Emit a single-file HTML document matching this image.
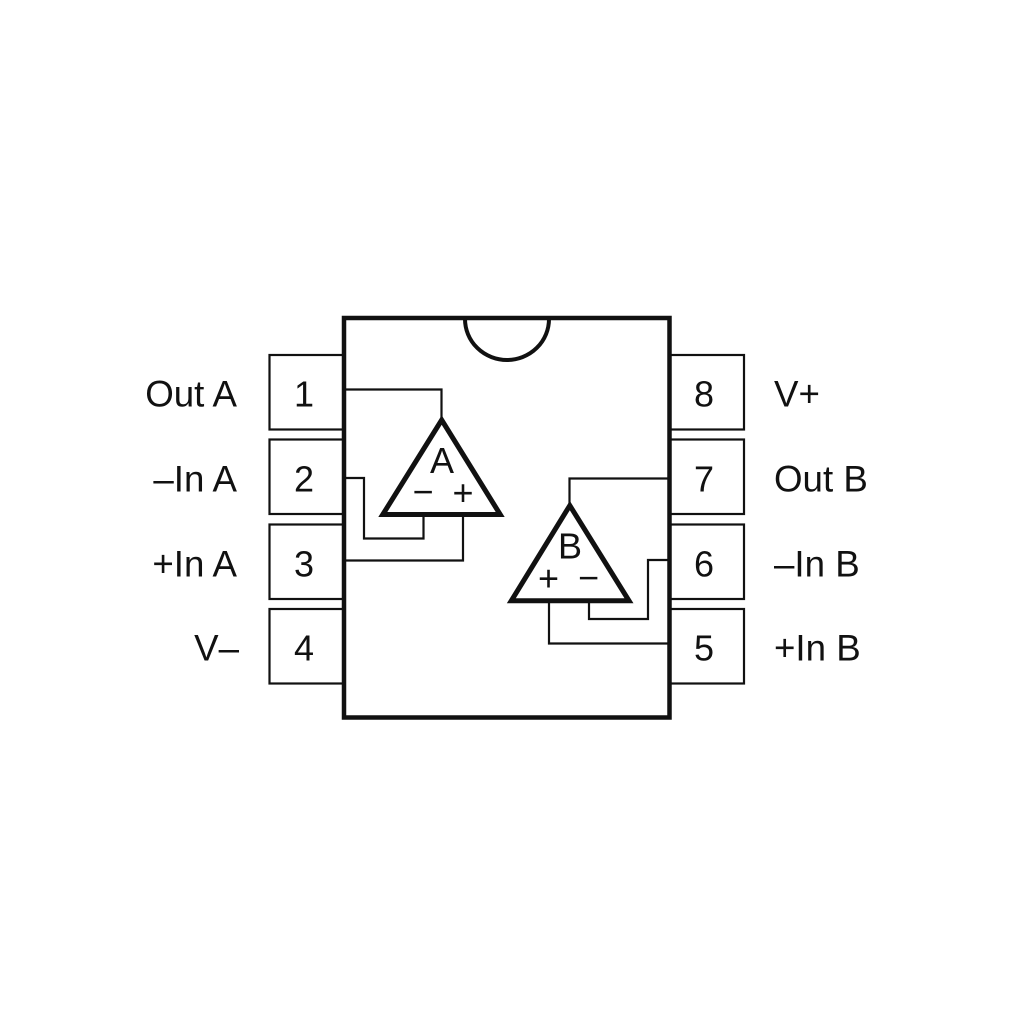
<!DOCTYPE html>
<html>
<head>
<meta charset="utf-8">
<style>
html,body{margin:0;padding:0;background:#fff;}
svg{display:block;}
text{font-family:"Liberation Sans",Arial,sans-serif;fill:#111;}
</style>
</head>
<body>
<svg width="1024" height="1024" viewBox="0 0 1024 1024" xmlns="http://www.w3.org/2000/svg">
<rect width="1024" height="1024" fill="#fff"/>
<g fill="none" stroke="#111" stroke-width="2.2">
  <rect x="269.500" y="355" width="74" height="74.500"/>
  <rect x="269.500" y="439.500" width="74" height="74.500"/>
  <rect x="269.500" y="524.500" width="74" height="74.500"/>
  <rect x="269.500" y="609" width="74" height="74.500"/>
  <rect x="670" y="355" width="74" height="74.500"/>
  <rect x="670" y="439.500" width="74" height="74.500"/>
  <rect x="670" y="524.500" width="74" height="74.500"/>
  <rect x="670" y="609" width="74" height="74.500"/>
</g>
<rect x="344" y="318" width="325.500" height="399.500" fill="#fff" stroke="#111" stroke-width="4.500"/>
<path d="M465 319 A42 41 0 0 0 549 319" fill="none" stroke="#111" stroke-width="4"/>
<g fill="none" stroke="#111" stroke-width="2.2">
  <path d="M345 389.500H441.500V418"/>
  <path d="M345 478H364V538.500H423.500V515"/>
  <path d="M345 560.500H463V515"/>
  <path d="M669 478.500H569.500V504"/>
  <path d="M669 560H648V619H589V601"/>
  <path d="M669 643.500H549V601"/>
</g>
<path d="M441.700 420L382.800 514.500H500.200Z" fill="none" stroke="#111" stroke-width="5"/>
<path d="M569.800 505.500L511.300 600.800H629Z" fill="none" stroke="#111" stroke-width="5"/>
<g font-size="36.700">
  <text x="237" y="406.500" text-anchor="end">Out A</text>
  <text x="237" y="491.500" text-anchor="end">–In A</text>
  <text x="237" y="576.500" text-anchor="end">+In A</text>
  <text x="239" y="660.500" text-anchor="end">V–</text>
  <text x="774" y="406.500">V+</text>
  <text x="774" y="491.500">Out B</text>
  <text x="774" y="576.500">–In B</text>
  <text x="774" y="660.500">+In B</text>
</g>
<g font-size="36">
  <text x="304" y="406.500" text-anchor="middle">1</text>
  <text x="304" y="491.500" text-anchor="middle">2</text>
  <text x="304" y="576.500" text-anchor="middle">3</text>
  <text x="304" y="660.500" text-anchor="middle">4</text>
  <text x="704" y="406.500" text-anchor="middle">8</text>
  <text x="704" y="491.500" text-anchor="middle">7</text>
  <text x="704" y="576.500" text-anchor="middle">6</text>
  <text x="704" y="660.500" text-anchor="middle">5</text>
  <text x="442" y="473" text-anchor="middle">A</text>
  <text x="570" y="558.500" text-anchor="middle">B</text>
  <text x="423" y="504" text-anchor="middle">−</text>
  <text x="463" y="505" text-anchor="middle">+</text>
  <text x="548.500" y="590.500" text-anchor="middle">+</text>
  <text x="588.500" y="590" text-anchor="middle">−</text>
</g>
</svg>
</body>
</html>
